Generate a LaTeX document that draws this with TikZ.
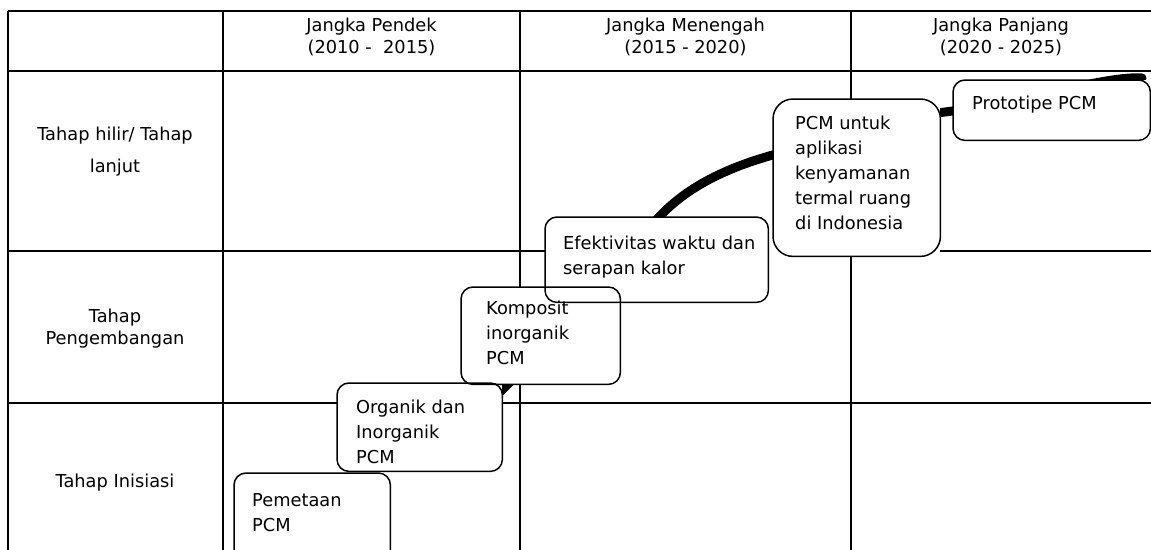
\documentclass[tikz,border=0pt]{standalone}
\usepackage{fontspec}
\setmainfont{DejaVu Sans}
\pgfdeclarelayer{bg}
\pgfdeclarelayer{fg}
\pgfsetlayers{bg,main,fg}
\begin{document}
\begin{tikzpicture}[x=1pt,y=-1pt,
  grid/.style={line width=2pt},
  boxfill/.style={fill=white, inner sep=0pt, anchor=north west},
  outline/.style={draw, line width=1.5pt, rounded corners=12pt},
  conn/.style={line width=9pt, line cap=round},
  txt/.style={font=\fontsize{17.8}{25}\selectfont, align=left, inner sep=0pt, anchor=north west},
  lbl/.style={font=\fontsize{17.8}{22}\selectfont, align=center, inner sep=0pt}]
\clip (0,0) rectangle (1151,549);
\useasboundingbox (0,0) rectangle (1151,549);
% box fills (named)
\node[boxfill, minimum width=156pt, minimum height=100pt] (pem) at (234,473) {};
\node[boxfill, minimum width=165pt, minimum height=88pt] (org) at (337,383) {};
\node[boxfill, minimum width=159pt, minimum height=97pt] (komp) at (461,287) {};
\node[boxfill, minimum width=223pt, minimum height=85pt] (eff) at (545,217) {};
\node[boxfill, minimum width=167pt, minimum height=157pt] (pcm) at (773,99) {};
\node[boxfill, minimum width=197pt, minimum height=60pt] (proto) at (953,80) {};
% grid and connectors behind the boxes
\begin{pgfonlayer}{bg}
  \draw[grid] (8,11) -- (1160,11);
  \draw[grid] (8,71) -- (1160,71);
  \draw[grid] (8,11) -- (8,560);
  \draw[grid] (223,11) -- (223,560);
  \draw[grid] (520,11) -- (520,560);
  \draw[grid] (851,11) -- (851,560);
  \draw[grid] (8,251) -- (eff.west |- 0,251);
  \draw[grid] (pcm.east |- 0,251) -- (1160,251);
  \draw[grid] (8,403) -- (1160,403);
  \coordinate (c1a) at (488,404);
  \coordinate (c1b) at (526,366);
  \draw[conn] (c1a) -- (c1b);
  \coordinate (c2a) at (652,225);
  \coordinate (c2b) at (780,153);
  \draw[conn] (c2a) .. controls (684,186) and (731,166) .. (c2b);
  \coordinate (c3a) at (930,114);
  \coordinate (c3b) at (960,110);
  \draw[conn] (c3a) -- (c3b);
  \coordinate (c4a) at (1090,84);
  \coordinate (c4b) at (1142,78);
  \draw[conn] (c4a) .. controls (1110,80) and (1130,77) .. (c4b);
\end{pgfonlayer}
% outlines and texts on top
\begin{pgfonlayer}{fg}
  \draw[outline] (pem.north west) rectangle (pem.south east);
  \draw[outline] (org.north west) rectangle (org.south east);
  \draw[outline] (komp.north west) rectangle (komp.south east);
  \draw[outline] (eff.north west) rectangle (eff.south east);
  \draw[outline, rounded corners=20pt] (pcm.north west) rectangle (pcm.south east);
  \draw[outline] (proto.north west) rectangle (proto.south east);
  \node[txt] (pemt) at (252,493) {Pemetaan\\PCM};
  \node[txt] (orgt) at (356,400) {Organik dan\\Inorganik\\PCM};
  \node[txt] (kompt) at (486,301) {Komposit\\inorganik\\PCM};
  \node[txt] (efft) at (563,236) {Efektivitas waktu dan\\serapan kalor};
  \node[txt] (pcmt) at (795,116) {PCM untuk\\aplikasi\\kenyamanan\\termal ruang\\di Indonesia};
  \node[txt] (protot) at (972,96) {Prototipe PCM};
  % headers
  \node[lbl] (h1) at (371.5,37) {Jangka Pendek\\(2010 -\ \ 2015)};
  \node[lbl] (h2) at (685.5,37) {Jangka Menengah\\(2015 - 2020)};
  \node[lbl] (h3) at (1001,37) {Jangka Panjang\\(2020 - 2025)};
  % row labels
  \node[lbl, font=\fontsize{17.8}{32}\selectfont] (r1) at (115,152) {Tahap hilir/ Tahap\\lanjut};
  \node[lbl] (r2) at (115,329) {Tahap\\Pengembangan};
  \node[lbl] (r3) at (115,483) {Tahap Inisiasi};
\end{pgfonlayer}
\end{tikzpicture}
\end{document}
